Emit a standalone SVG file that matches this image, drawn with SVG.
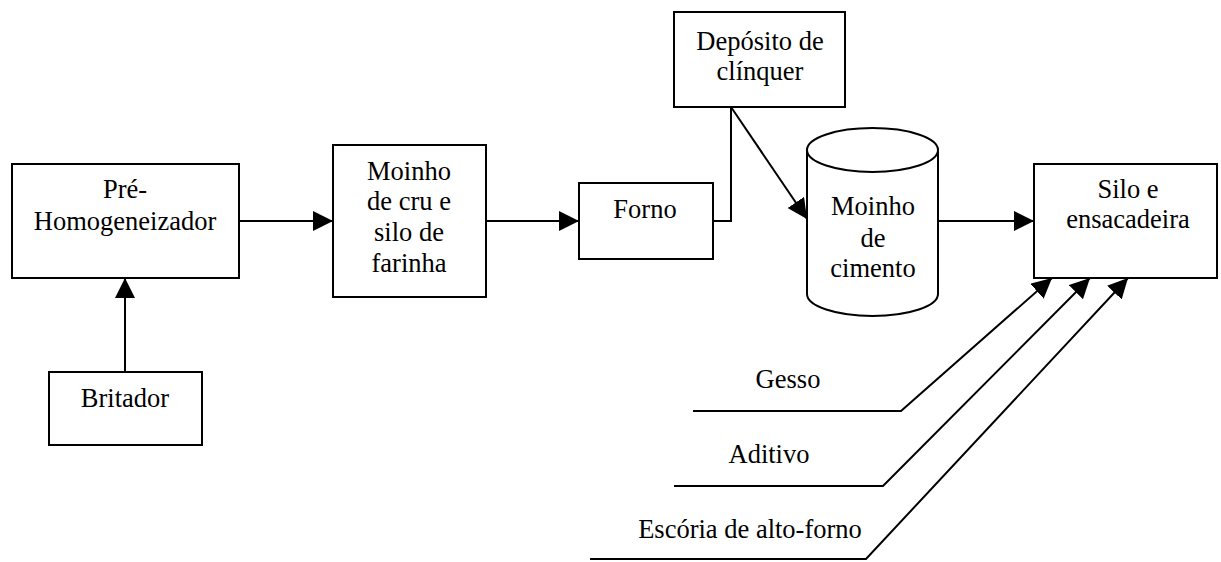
<svg xmlns="http://www.w3.org/2000/svg" width="1221" height="562" viewBox="0 0 1221 562">
<style>
.box{fill:#fff;stroke:#000;stroke-width:2}
.ln{fill:none;stroke:#000;stroke-width:2}
text{font-family:"Liberation Serif","Times New Roman",serif;font-size:26.5px;fill:#000;text-anchor:middle}
</style>
<defs>
<marker id="ah" markerUnits="userSpaceOnUse" markerWidth="20" markerHeight="20" viewBox="0 0 20 20" refX="20" refY="10" orient="auto">
<path d="M0,0 L20,10 L0,20 Z" fill="#000"/>
</marker>
</defs>
<rect width="1221" height="562" fill="#fff"/>
<g id="connectors">
<line class="ln" x1="239" y1="221" x2="333" y2="221" marker-end="url(#ah)"/>
<line class="ln" x1="125" y1="372" x2="125" y2="278" marker-end="url(#ah)"/>
<line class="ln" x1="486" y1="221" x2="579" y2="221" marker-end="url(#ah)"/>
<polyline class="ln" points="713,221 731,221 731,107"/>
<line class="ln" x1="731" y1="107" x2="807" y2="219" marker-end="url(#ah)"/>
<line class="ln" x1="938" y1="221" x2="1034" y2="221" marker-end="url(#ah)"/>
<polyline class="ln" points="693,411 901,411 1052,278" marker-end="url(#ah)"/>
<polyline class="ln" points="674,486 883,486 1090,278" marker-end="url(#ah)"/>
<polyline class="ln" points="590,559 866,559 1128,278" marker-end="url(#ah)"/>
</g>
<g id="pre">
<rect class="box" x="12" y="164" width="227" height="114"/>
<text x="125" y="198">Pré-</text>
<text x="125" y="230">Homogeneizador</text>
</g>
<g id="britador">
<rect class="box" x="49" y="372" width="153" height="73"/>
<text x="125" y="407">Britador</text>
</g>
<g id="moinho-cru">
<rect class="box" x="333" y="145" width="153" height="152"/>
<text x="409" y="180">Moinho</text>
<text x="409" y="210">de cru e</text>
<text x="409" y="241">silo de</text>
<text x="409" y="272">farinha</text>
</g>
<g id="forno">
<rect class="box" x="579" y="183" width="134" height="76"/>
<text x="645" y="218">Forno</text>
</g>
<g id="deposito">
<rect class="box" x="674" y="12" width="171" height="95"/>
<text x="760" y="50">Depósito de</text>
<text x="760" y="80">clínquer</text>
</g>
<g id="moinho-cimento">
<path class="box" d="M807,150 L807,294 A65.5,22 0 0 0 938,294 L938,150 A65.5,22 0 0 0 807,150 Z"/>
<path class="ln" d="M807,150 A65.5,22 0 0 0 938,150"/>
<text x="873" y="215">Moinho</text>
<text x="873" y="247">de</text>
<text x="873" y="277">cimento</text>
</g>
<g id="silo">
<rect class="box" x="1034" y="164" width="183" height="114"/>
<text x="1128" y="198">Silo e</text>
<text x="1128" y="228">ensacadeira</text>
</g>
<g id="labels">
<text x="788" y="388">Gesso</text>
<text x="769" y="463">Aditivo</text>
<text x="750" y="538">Escória de alto-forno</text>
</g>
</svg>
